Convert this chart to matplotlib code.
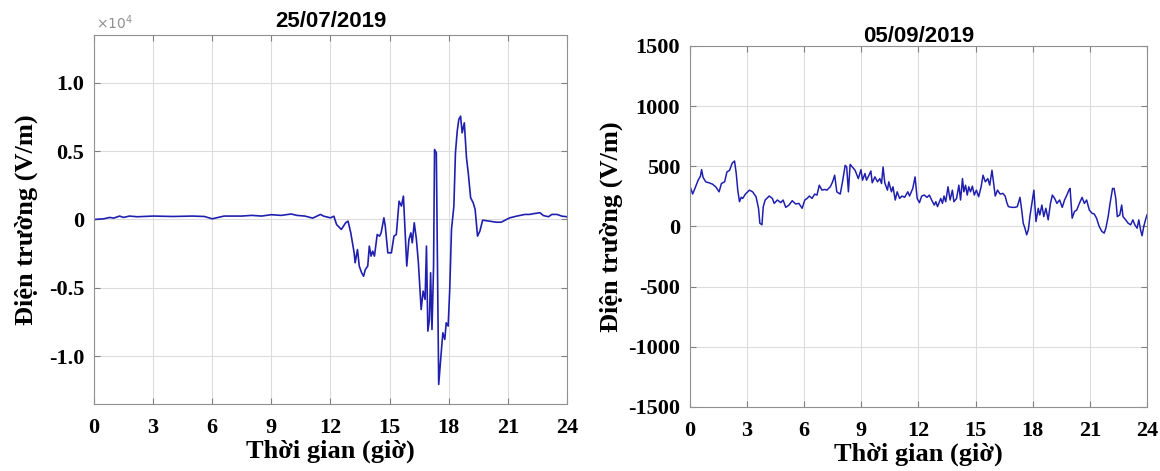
import matplotlib.pyplot as plt
import numpy as np

# Left panel: 25/07/2019, time (h) and field (V/m)
t_jul = [0.0, 0.5, 0.8, 1.0, 1.3, 1.5, 1.8, 2.2, 3.0, 4.0, 5.0, 5.6, 6.0, 6.3, 6.6,
         7.5, 8.0, 8.5, 9.0, 9.5, 10.0, 10.3, 10.7, 11.1, 11.49, 11.66, 12.0, 12.17,
         12.31, 12.55, 12.77, 12.89, 13.03, 13.2, 13.25, 13.37, 13.46, 13.58, 13.68,
         13.77, 13.89, 13.97, 14.06, 14.14, 14.23, 14.37, 14.49, 14.57, 14.71, 14.78,
         14.91, 15.09, 15.22, 15.34, 15.48, 15.6, 15.7, 15.87, 15.98, 16.08, 16.15,
         16.25, 16.36, 16.46, 16.6, 16.7, 16.8, 16.87, 16.94, 17.02, 17.08, 17.15,
         17.23, 17.28, 17.37, 17.49, 17.59, 17.7, 17.8, 17.87, 17.97, 18.05, 18.14,
         18.26, 18.34, 18.43, 18.51, 18.6, 18.68, 18.79, 18.9, 18.99, 19.11, 19.24,
         19.34, 19.46, 19.58, 19.72, 20.06, 20.4, 20.66, 21.09, 21.43, 21.86, 22.1,
         22.36, 22.63, 22.8, 23.06, 23.23, 23.49, 23.75, 24.0]
e_jul = [0, 50, 150, 100, 250, 150, 250, 200, 250, 220, 250, 220, 50, 150, 250,
         250, 300, 250, 350, 300, 400, 300, 250, 100, 370, 240, 120, 240,
         -370, -730, -240, -120, -980, -2440, -3170, -2200, -3410, -3900, -4150,
         -3660, -3410, -1950, -2680, -2320, -2680, -1100, -1220, -980, 120, -490,
         -2440, -2440, -1220, -1100, 1340, 980, 1710, -3410, -1460, -980, -1710,
         -240, -1460, -3170, -6590, -5240, -5850, -1950, -8170, -7320, -3900, -8050,
         -3410, 5120, 4880, -12070, -10240, -8290, -8780, -7560, -7800, -5120, -730,
         980, 4880, 6460, 7320, 7560, 6340, 7070, 4510, 3410, 1590, 1220,
         730, -1220, -850, -50, -120, -200, -200, 120, 240, 370, 370,
         440, 490, 290, 200, 370, 370, 240, 200]

# Right panel: 05/09/2019
t_sep = [0.0, 0.14, 0.26, 0.43, 0.55, 0.61, 0.69, 0.83, 1.0, 1.18, 1.35, 1.53, 1.65,
         1.82, 1.94, 2.08, 2.22, 2.34, 2.43, 2.51, 2.6, 2.69, 2.77, 2.91, 3.12, 3.29,
         3.47, 3.6, 3.67, 3.78, 3.85, 3.95, 4.16, 4.33, 4.42, 4.59, 4.77, 4.89, 5.03,
         5.2, 5.37, 5.55, 5.72, 5.89, 6.03, 6.15, 6.27, 6.41, 6.55, 6.67, 6.79, 6.93,
         7.07, 7.19, 7.37, 7.49, 7.6, 7.71, 7.89, 8.01, 8.15, 8.23, 8.32, 8.41, 8.53,
         8.67, 8.84, 8.98, 9.06, 9.19, 9.27, 9.4, 9.5, 9.57, 9.71, 9.85, 9.97, 10.06,
         10.14, 10.23, 10.37, 10.44, 10.58, 10.66, 10.78, 10.88, 11.01, 11.13, 11.27,
         11.44, 11.53, 11.7, 11.82, 11.93, 12.05, 12.17, 12.31, 12.45, 12.57, 12.69,
         12.83, 12.91, 13.0, 13.17, 13.26, 13.34, 13.43, 13.55, 13.66, 13.78, 13.86,
         14.0, 14.12, 14.21, 14.31, 14.38, 14.47, 14.56, 14.64, 14.73, 14.83, 14.93,
         15.04, 15.16, 15.29, 15.39, 15.51, 15.64, 15.74, 15.86, 15.95, 16.03, 16.15,
         16.29, 16.43, 16.55, 16.64, 16.72, 16.9, 17.07, 17.19, 17.33, 17.42, 17.5,
         17.59, 17.68, 17.77, 17.85, 17.94, 18.06, 18.17, 18.29, 18.37, 18.48, 18.58,
         18.69, 18.81, 18.93, 19.03, 19.15, 19.27, 19.41, 19.55, 19.67, 19.79, 19.9,
         19.96, 20.07, 20.19, 20.31, 20.45, 20.59, 20.71, 20.83, 20.97, 21.11, 21.23,
         21.35, 21.49, 21.63, 21.75, 21.84, 21.96, 22.06, 22.19, 22.27, 22.36, 22.44,
         22.57, 22.67, 22.74, 22.88, 23.01, 23.14, 23.26, 23.36, 23.48, 23.57, 23.66,
         23.74, 23.83, 23.92, 24.0]
e_sep = [335, 270, 316, 385, 418, 472, 407, 371, 363, 352, 330, 288, 357,
         371, 453, 467, 527, 544, 440, 302, 206, 242, 233, 269, 302, 288,
         247, 151, 27, 14, 165, 220, 253, 233, 192, 220, 198, 220, 159,
         178, 214, 187, 192, 151, 220, 233, 253, 233, 269, 261, 343, 302,
         308, 302, 330, 371, 426, 288, 269, 371, 508, 494, 288, 516, 494,
         467, 398, 472, 385, 440, 385, 426, 461, 363, 412, 371, 398, 357,
         494, 363, 302, 371, 288, 330, 220, 288, 233, 253, 242,
         288, 253, 316, 412, 233, 198, 253, 261, 242, 261, 220,
         178, 206, 165, 233, 192, 253, 206, 330, 220, 302, 206,
         233, 343, 220, 398, 288, 343, 261, 330, 288, 335, 261,
         302, 247, 330, 426, 371, 398, 343, 467, 357, 253, 302,
         269, 275, 253, 198, 165, 159, 159, 165, 242, 137, 27,
         -14, -69, -27, 82, 178, 302, 41, 151, 96, 178, 82,
         151, 55, 192, 261, 233, 192, 220, 159, 220, 261, 302,
         316, 69, 124, 137, 192, 242, 192, 220, 137, 110, 104,
         69, 0, -41, -55, -14, 82, 192, 316, 316, 233, 82,
         96, 178, 82, 55, 27, 14, 55, 14, -14, 55, -27,
         -77, 0, 55, 96]

x_ticks = [0, 3, 6, 9, 12, 15, 18, 21, 24]
jul_yticks = [-10000, -5000, 0, 5000, 10000]
jul_ylabels = ['-1.0', '-0.5', '0', '0.5', '1.0']
sep_yticks = [-1500, -1000, -500, 0, 500, 1000, 1500]

LINE_COLOR = '#2020b0'
SERIF = 'Liberation Serif'
SANS = 'Liberation Sans'

plt.rcParams['axes.unicode_minus'] = False


def style_axes(ax, ylabelpad):
    ax.set_xlim(0, 24)
    ax.set_xticks(x_ticks)
    ax.grid(True, color='#dcdcdc', linewidth=0.8)
    ax.set_axisbelow(True)
    ax.tick_params(direction='in', length=4, color='#808080',
                   top=True, right=True)
    ax.tick_params(axis='x', pad=10)
    ax.tick_params(axis='y', pad=7)
    for sp in ax.spines.values():
        sp.set_color('#909090')
        sp.set_linewidth(0.8)
    for lbl in ax.get_xticklabels() + ax.get_yticklabels():
        lbl.set_fontfamily(SERIF)
        lbl.set_fontweight('bold')
        lbl.set_fontsize(16)
    ax.set_xlabel('Thời gian (giờ)', fontfamily=SERIF, fontweight='bold',
                  fontsize=19, labelpad=1)
    ax.set_ylabel('Điện trường (V/m)', fontfamily=SERIF, fontweight='bold',
                  fontsize=19, labelpad=ylabelpad)


fig = plt.figure(figsize=(11.6, 4.71), dpi=100)

ax1 = fig.add_axes([0.081, 0.1423, 0.4078, 0.7834])
ax1.plot(t_jul, e_jul, color=LINE_COLOR, linewidth=1.2)
ax1.set_ylim(-13500, 13500)
ax1.set_yticks(jul_yticks)
ax1.set_yticklabels(jul_ylabels)
style_axes(ax1, 8)
ax1.set_title('25/07/2019', fontfamily=SANS, fontweight='bold', fontsize=16, pad=6)
ax1.text(0.005, 1.008, r'$\times10^4$', transform=ax1.transAxes, color='#909090',
         fontsize=10, ha='left', va='bottom')

ax2 = fig.add_axes([0.5948, 0.1359, 0.3940, 0.7665])
ax2.plot(t_sep, e_sep, color=LINE_COLOR, linewidth=1.1)
ax2.set_ylim(-1500, 1500)
ax2.set_yticks(sep_yticks)
style_axes(ax2, 4)
ax2.set_title('05/09/2019', fontfamily=SANS, fontweight='bold', fontsize=16, pad=3)

fig.savefig('out.png', dpi=100)
